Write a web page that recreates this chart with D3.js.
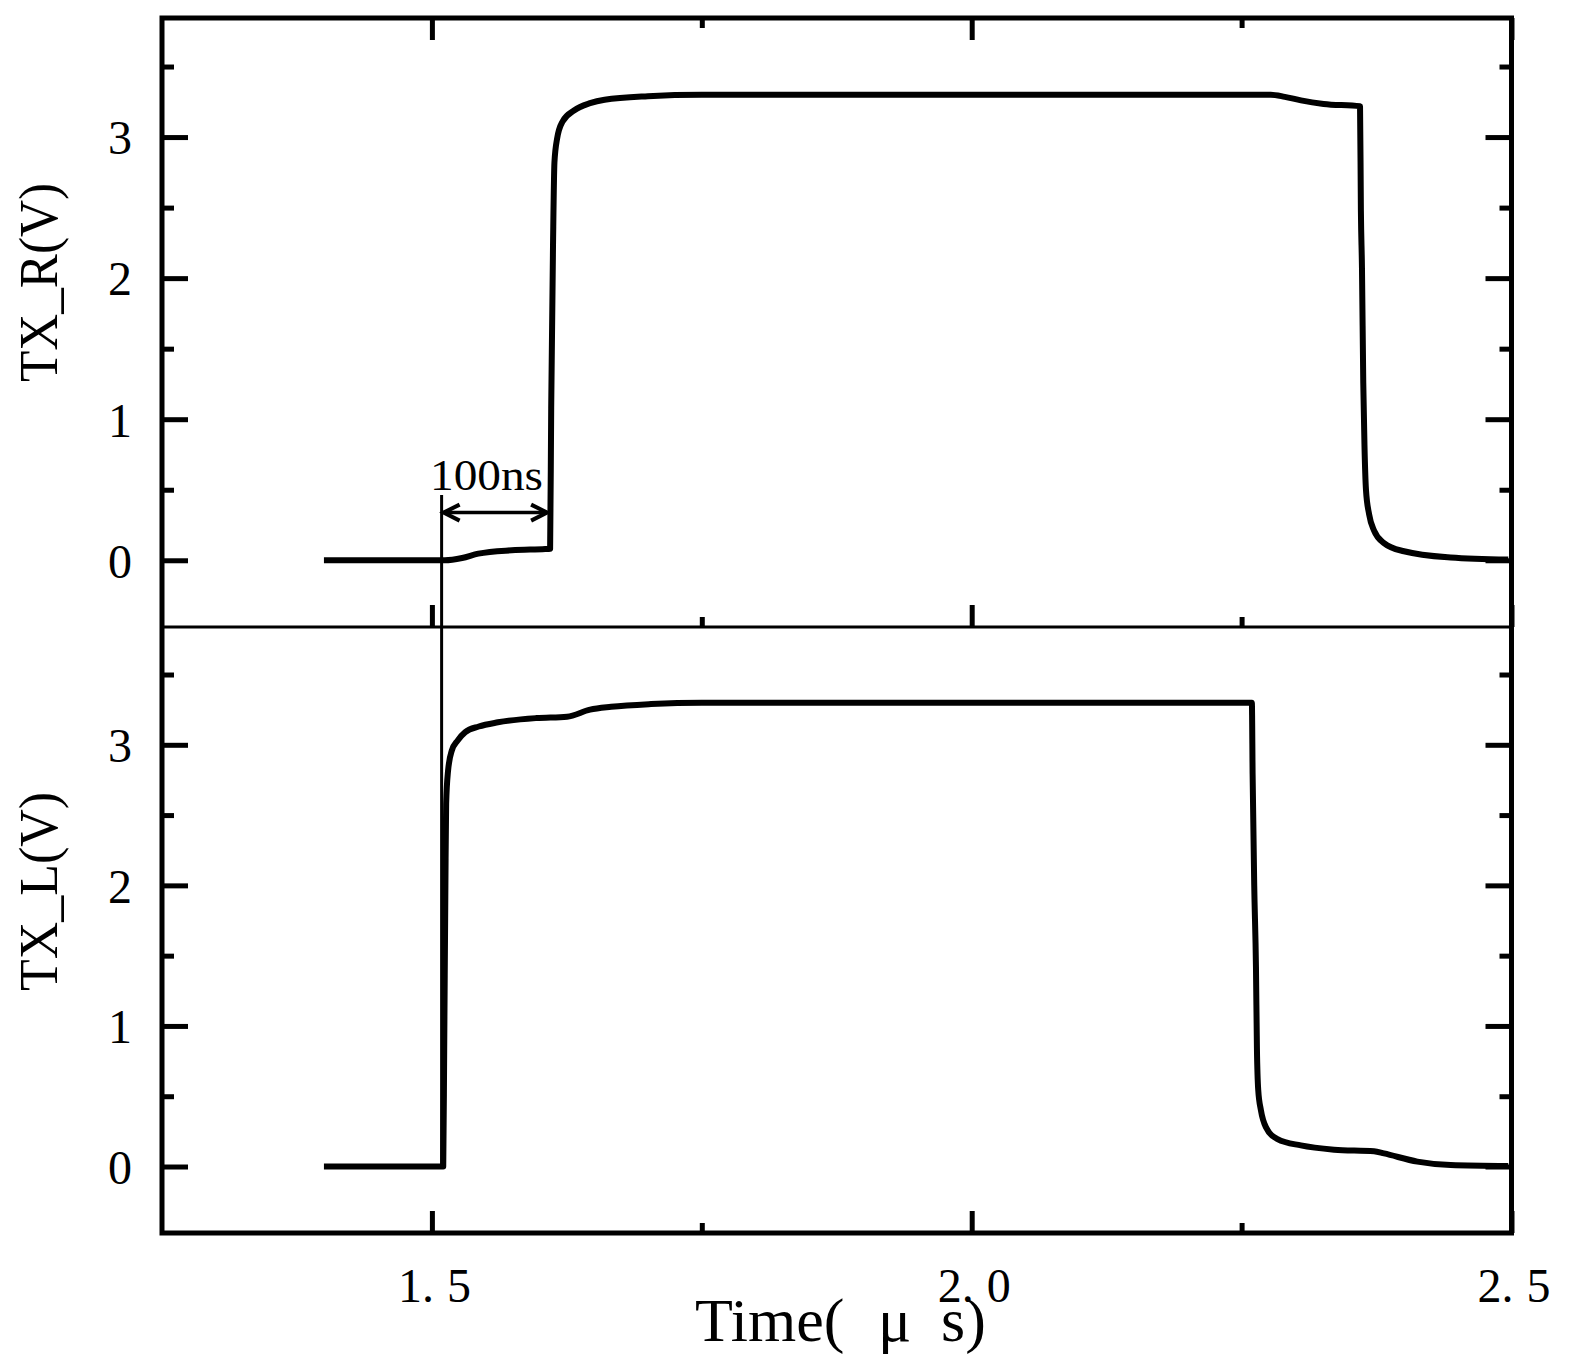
<!DOCTYPE html>
<html><head><meta charset="utf-8">
<script src="https://cdn.jsdelivr.net/npm/d3@7"></script>
<style>body{margin:0;background:#fff} svg{display:block}</style>
</head><body><svg id="c" width="1575" height="1372"></svg>
<script>
// ---- data (time in µs, voltage in V) ----
const timeR = [1.400, 1.512, 1.528, 1.543, 1.574, 1.605, 1.6095, 1.6105, 1.6122, 1.6135, 1.616, 1.621, 1.632, 1.6465, 1.660, 1.700, 1.750, 2.277, 2.290, 2.305, 2.326, 2.3597, 2.3605, 2.3615, 2.3627, 2.3638, 2.3652, 2.3681, 2.3727, 2.3819, 2.4004, 2.4436, 2.497];
const txR   = [0, 0, 0.016, 0.047, 0.071, 0.080, 0.082, 1.08, 2.24, 2.82, 2.99, 3.11, 3.19, 3.24, 3.265, 3.29, 3.30, 3.30, 3.285, 3.26, 3.235, 3.218, 2.477, 2.07, 1.256, 0.82, 0.50, 0.326, 0.21, 0.122, 0.064, 0.02, 0.005];

const timeL = [1.400, 1.5105, 1.5114, 1.5125, 1.5132, 1.5149, 1.5185, 1.5238, 1.5309, 1.5434, 1.5612, 1.5967, 1.6252, 1.6465, 1.666, 1.703, 1.750, 2.2595, 2.2602, 2.2617, 2.2633, 2.2642, 2.2654, 2.2679, 2.2725, 2.2833, 2.3049, 2.3357, 2.3727, 2.3819, 2.4128, 2.4436, 2.497];
const txL   = [0, 0, 0.84, 2.0, 2.58, 2.81, 2.96, 3.03, 3.09, 3.13, 3.16, 3.19, 3.20, 3.25, 3.27, 3.29, 3.30, 3.30, 2.79, 2.0, 1.42, 0.84, 0.545, 0.40, 0.28, 0.195, 0.15, 0.12, 0.108, 0.093, 0.035, 0.01, 0.003];

const xMajorTicks = [1.5, 2.0, 2.5];
const xTickLabels = ["1.5", "2.0", "2.5"];
const xMinorTicks = [1.75, 2.25];
const yMajorTicks = [0, 1, 2, 3];
const yMinorTicks = [0.5, 1.5, 2.5, 3.5];

const markerTime = 1.509;      // vertical reference line
const markerTopValue = 0.463;  // its top in TX_R panel
const arrowValue = 0.338;      // arrow level in TX_R panel
const arrowEndTime = 1.6095;   // TX_R rising edge
const annoText = "100ns";
const annoTime = 1.5506, annoValue = 0.5;

const titleX = "Time(μs)";
const titleR = "TX_R(V)", titleL = "TX_L(V)";

// ---- layout ----
const L = 162, R = 1511.5, T = 18, M = 627, B = 1233;
const font = "'Liberation Serif','DejaVu Serif',serif";

const svg = d3.select("#c");
const x = d3.scaleLinear().domain([1.25, 2.5]).range([L, R]);
const yR = d3.scaleLinear().domain([-0.473, 3.844]).range([M, T]);
const yL = d3.scaleLinear().domain([-0.473, 3.838]).range([B, M]);

function styleAxis(g, sw) {
  g.select(".domain").remove();
  g.selectAll(".tick line").attr("stroke", "#000").attr("stroke-width", sw);
}

function yAxes(y, labels) {
  const gl = svg.append("g").attr("transform", `translate(${L},0)`)
    .call(d3.axisLeft(y).tickValues(yMajorTicks).tickSizeInner(-26).tickSizeOuter(0).tickPadding(30)
      .tickFormat(labels ? d3.format("d") : ""));
  styleAxis(gl, 5);
  gl.selectAll("text").attr("font-family", font).attr("font-size", 48).attr("fill", "#000").attr("dy", "0.35em");
  const glm = svg.append("g").attr("transform", `translate(${L},0)`)
    .call(d3.axisLeft(y).tickValues(yMinorTicks).tickSizeInner(-12).tickSizeOuter(0).tickFormat(""));
  styleAxis(glm, 5);
  const gr = svg.append("g").attr("transform", `translate(${R},0)`)
    .call(d3.axisRight(y).tickValues(yMajorTicks).tickSizeInner(-26).tickSizeOuter(0).tickFormat(""));
  styleAxis(gr, 5);
  const grm = svg.append("g").attr("transform", `translate(${R},0)`)
    .call(d3.axisRight(y).tickValues(yMinorTicks).tickSizeInner(-12).tickSizeOuter(0).tickFormat(""));
  styleAxis(grm, 5);
}

function xTicks(axisFn, ypos, withLabels) {
  const g = svg.append("g").attr("transform", `translate(0,${ypos})`)
    .call(axisFn(x).tickValues(xMajorTicks).tickSizeInner(-22).tickSizeOuter(0).tickPadding(36)
      .tickFormat(""));
  styleAxis(g, 5);
  if (withLabels) {
    g.selectAll(".tick").each(function (d, i) {
      const lab = xTickLabels[i];
      const dot = lab.indexOf(".");
      const t = d3.select(this).append("text")
        .attr("y", 1302 - ypos).attr("text-anchor", "middle").attr("x", 2)
        .attr("font-family", font).attr("font-size", 48).attr("fill", "#000");
      t.append("tspan").text(lab.slice(0, dot + 1));
      t.append("tspan").attr("dx", 13).text(lab.slice(dot + 1));
    });
  }
  const gm = svg.append("g").attr("transform", `translate(0,${ypos})`)
    .call(axisFn(x).tickValues(xMinorTicks).tickSizeInner(-10).tickSizeOuter(0).tickFormat(""));
  styleAxis(gm, 5);
}

// curves
const lineR = d3.line().x((d, i) => x(timeR[i])).y(d => yR(d)).curve(d3.curveMonotoneX);
const lineL = d3.line().x((d, i) => x(timeL[i])).y(d => yL(d)).curve(d3.curveMonotoneX);
svg.append("path").attr("d", lineR(txR)).attr("fill", "none").attr("stroke", "#000")
  .attr("stroke-width", 6).attr("stroke-linejoin", "round");
svg.append("path").attr("d", lineL(txL)).attr("fill", "none").attr("stroke", "#000")
  .attr("stroke-width", 6).attr("stroke-linejoin", "round");

// vertical reference line
svg.append("line").attr("x1", x(markerTime)).attr("x2", x(markerTime))
  .attr("y1", yR(markerTopValue)).attr("y2", yL(0))
  .attr("stroke", "#000").attr("stroke-width", 3);

// double arrow
const ax1 = x(markerTime) + 2, ax2 = x(arrowEndTime) - 3, ay = yR(arrowValue);
svg.append("line").attr("x1", ax1).attr("x2", ax2).attr("y1", ay).attr("y2", ay)
  .attr("stroke", "#000").attr("stroke-width", 3.5);
svg.append("path").attr("d", d3.line()([[ax1 + 16, ay - 8], [ax1, ay], [ax1 + 16, ay + 8]]))
  .attr("fill", "none").attr("stroke", "#000").attr("stroke-width", 4);
svg.append("path").attr("d", d3.line()([[ax2 - 16, ay - 8], [ax2, ay], [ax2 - 16, ay + 8]]))
  .attr("fill", "none").attr("stroke", "#000").attr("stroke-width", 4);
svg.append("text").attr("x", x(annoTime)).attr("y", yR(annoValue)).attr("text-anchor", "middle")
  .attr("font-family", font).attr("font-size", 44).attr("textLength", 113)
  .attr("lengthAdjust", "spacingAndGlyphs").text(annoText);

// axes
yAxes(yR, true);
yAxes(yL, true);
xTicks(d3.axisTop, T, false);
xTicks(d3.axisBottom, M, false);
xTicks(d3.axisBottom, B, true);

// frames
svg.append("line").attr("x1", L).attr("x2", R).attr("y1", M).attr("y2", M)
  .attr("stroke", "#000").attr("stroke-width", 3);
svg.append("rect").attr("x", L).attr("y", T).attr("width", R - L).attr("height", B - T)
  .attr("fill", "none").attr("stroke", "#000").attr("stroke-width", 5);

// axis titles
const tx = svg.append("text").attr("y", 1341).attr("font-family", font).attr("font-size", 62);
tx.append("tspan").attr("x", 695).text(titleX.slice(0, 5));
tx.append("tspan").attr("x", 878).text(titleX.slice(5, 6));
tx.append("tspan").attr("x", 941).text(titleX.slice(6));

svg.append("text").attr("transform", "translate(57,282.5) rotate(-90)").attr("text-anchor", "middle")
  .attr("font-family", font).attr("font-size", 54).attr("textLength", 199)
  .attr("lengthAdjust", "spacingAndGlyphs").text(titleR);
svg.append("text").attr("transform", "translate(57,891.5) rotate(-90)").attr("text-anchor", "middle")
  .attr("font-family", font).attr("font-size", 54).attr("textLength", 199)
  .attr("lengthAdjust", "spacingAndGlyphs").text(titleL);
</script></body></html>
